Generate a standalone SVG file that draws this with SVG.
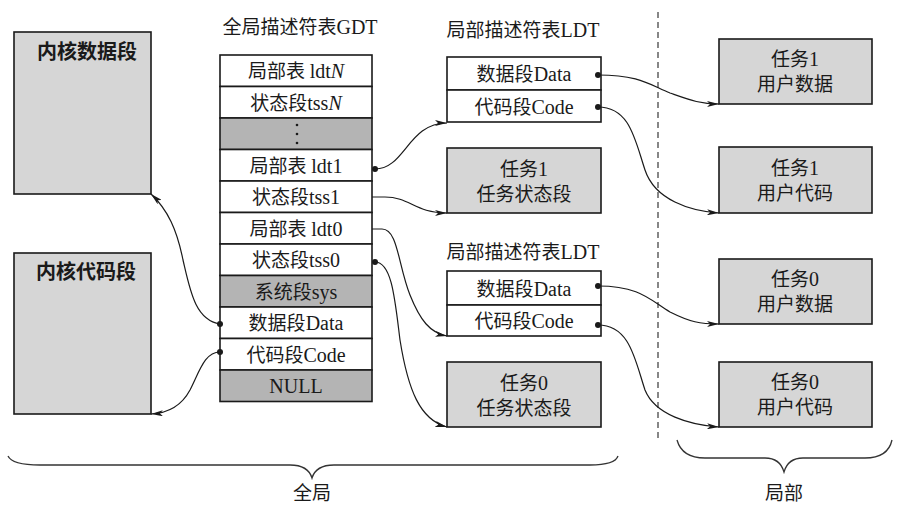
<svg xmlns="http://www.w3.org/2000/svg" width="900" height="510" viewBox="0 0 900 510">
<defs>
<style>
.t{font-family:"Liberation Serif","Noto Sans CJK SC",serif;font-size:19px;fill:#1a1a1a;text-anchor:middle}
.t tspan.l{font-size:20px}
.kb{font-family:"Liberation Serif","Noto Sans CJK SC",serif;font-size:20px;font-weight:bold;fill:#1a1a1a;text-anchor:middle}
.w{fill:#ffffff;stroke:#1a1a1a;stroke-width:1.6}
.g{fill:#d6d6d6;stroke:#1a1a1a;stroke-width:1.6}
.dg{fill:#b4b4b4;stroke:#1a1a1a;stroke-width:1.6}
.c{fill:none;stroke:#1a1a1a;stroke-width:1.2;marker-end:url(#arr)}
.b{fill:none;stroke:#333;stroke-width:1.3}
.dot{fill:#1a1a1a}
</style>
<marker id="arr" viewBox="0 0 12 6" refX="12" refY="3" markerWidth="12" markerHeight="6" markerUnits="userSpaceOnUse" orient="auto">
<path d="M0,0 L12,3 L0,6 L3,3 Z" fill="#1a1a1a"/>
</marker>
</defs>

<g id="kernel-data">
<rect class="g" x="14" y="32" width="137" height="162"/>
<text class="kb" x="87" y="59">内核数据段</text>
</g>
<g id="kernel-code">
<rect class="g" x="14" y="253" width="137" height="161"/>
<text class="kb" x="86" y="279">内核代码段</text>
</g>

<g id="gdt">
<text class="t" x="300" y="34">全局描述符表<tspan class="l">GDT</tspan></text>
<rect class="w" x="220" y="55" width="152" height="31.5"/>
<text class="t" x="296" y="78">局部表 <tspan class="l">ldt</tspan><tspan class="l" font-style="italic">N</tspan></text>
<rect class="w" x="220" y="86.5" width="152" height="31.5"/>
<text class="t" x="296" y="109.5">状态段<tspan class="l">tss</tspan><tspan class="l" font-style="italic">N</tspan></text>
<rect class="dg" x="220" y="118" width="152" height="31.5"/>
<circle class="dot" cx="297" cy="125" r="1.3"/>
<circle class="dot" cx="297" cy="134" r="1.3"/>
<circle class="dot" cx="297" cy="143" r="1.3"/>
<rect class="w" x="220" y="149.5" width="152" height="31.5"/>
<text class="t" x="296" y="172.5">局部表 <tspan class="l">ldt1</tspan></text>
<rect class="w" x="220" y="181" width="152" height="31.5"/>
<text class="t" x="296" y="204">状态段<tspan class="l">tss1</tspan></text>
<rect class="w" x="220" y="212.5" width="152" height="31.5"/>
<text class="t" x="296" y="235.5">局部表 <tspan class="l">ldt0</tspan></text>
<rect class="w" x="220" y="244" width="152" height="31.5"/>
<text class="t" x="296" y="267">状态段<tspan class="l">tss0</tspan></text>
<rect class="dg" x="220" y="275.5" width="152" height="31.5"/>
<text class="t" x="296" y="298.5">系统段<tspan class="l">sys</tspan></text>
<rect class="w" x="220" y="307" width="152" height="31.5"/>
<text class="t" x="296" y="330">数据段<tspan class="l">Data</tspan></text>
<rect class="w" x="220" y="338.5" width="152" height="31.5"/>
<text class="t" x="296" y="361.5">代码段<tspan class="l">Code</tspan></text>
<rect class="dg" x="220" y="370" width="152" height="31.5"/>
<text class="t" x="296" y="393"><tspan class="l">NULL</tspan></text>
</g>

<g id="ldt1">
<text class="t" x="523" y="37">局部描述符表<tspan class="l">LDT</tspan></text>
<rect class="w" x="447" y="57" width="154" height="33"/>
<text class="t" x="524" y="81">数据段<tspan class="l">Data</tspan></text>
<rect class="w" x="447" y="90" width="154" height="32"/>
<text class="t" x="524" y="113.5">代码段<tspan class="l">Code</tspan></text>
</g>
<g id="tss1">
<rect class="g" x="447" y="148" width="154" height="65"/>
<text class="t" x="524" y="176">任务<tspan class="l">1</tspan></text>
<text class="t" x="524" y="201">任务状态段</text>
</g>
<g id="ldt0">
<text class="t" x="523" y="259">局部描述符表<tspan class="l">LDT</tspan></text>
<rect class="w" x="447" y="271" width="154" height="34"/>
<text class="t" x="524" y="295.5">数据段<tspan class="l">Data</tspan></text>
<rect class="w" x="447" y="305" width="154" height="31"/>
<text class="t" x="524" y="328">代码段<tspan class="l">Code</tspan></text>
</g>
<g id="tss0">
<rect class="g" x="447" y="362" width="154" height="65"/>
<text class="t" x="524" y="390">任务<tspan class="l">0</tspan></text>
<text class="t" x="524" y="415">任务状态段</text>
</g>

<g id="task1-data">
<rect class="g" x="719" y="39" width="153" height="65"/>
<text class="t" x="795" y="66">任务<tspan class="l">1</tspan></text>
<text class="t" x="795" y="91">用户数据</text>
</g>
<g id="task1-code">
<rect class="g" x="719" y="147" width="153" height="66"/>
<text class="t" x="795" y="175">任务<tspan class="l">1</tspan></text>
<text class="t" x="795" y="200">用户代码</text>
</g>
<g id="task0-data">
<rect class="g" x="719" y="259" width="153" height="65"/>
<text class="t" x="795" y="286">任务<tspan class="l">0</tspan></text>
<text class="t" x="795" y="311">用户数据</text>
</g>
<g id="task0-code">
<rect class="g" x="719" y="362" width="153" height="65"/>
<text class="t" x="795" y="389">任务<tspan class="l">0</tspan></text>
<text class="t" x="795" y="414">用户代码</text>
</g>

<g id="divider">
<line x1="658" y1="12" x2="658" y2="440" stroke="#555" stroke-width="1.4" stroke-dasharray="6,4"/>
</g>

<g id="connectors">
<path class="c" d="M375,169 C 405,169 408,123 447,123"/>
<path class="c" d="M372,197 L385,197 C 410,197 415,213 447,213"/>
<path class="c" d="M372,229 L382,229 C 398,229 398,265 410,295 C 420,320 430,333 447,336"/>
<path class="c" d="M375,262 C 392,262 395,300 400,340 C 408,390 420,420 447,427"/>
<path class="c" d="M220,324 C 195,320 190,290 183,260 C 177,230 168,210 151,194"/>
<path class="c" d="M220,352 C 205,352 200,370 190,390 C 182,405 170,413 151,414"/>
<path class="c" d="M598,75 C 640,75 650,85 670,93 C 690,100 700,104 719,104"/>
<path class="c" d="M598,107 C 630,107 635,140 645,170 C 655,200 690,211 719,213"/>
<path class="c" d="M598,286 C 640,286 650,300 670,312 C 690,322 700,324 719,324"/>
<path class="c" d="M598,325 C 630,325 635,360 645,390 C 655,415 690,425 719,427"/>
<circle class="dot" cx="375" cy="169" r="3"/>
<circle class="dot" cx="375" cy="262" r="3"/>
<circle class="dot" cx="220" cy="324" r="3"/>
<circle class="dot" cx="220" cy="352" r="3"/>
<circle class="dot" cx="598" cy="75" r="3"/>
<circle class="dot" cx="598" cy="107" r="3"/>
<circle class="dot" cx="598" cy="286" r="3"/>
<circle class="dot" cx="598" cy="325" r="3"/>
</g>

<g id="global-brace">
<path class="b" d="M8,456 Q 12,465 40,465 L 290,465 Q 308,465 312,478 Q 316,465 334,465 L 590,465 Q 615,465 618,456"/>
<text class="t" x="312" y="500">全局</text>
</g>
<g id="local-brace">
<path class="b" d="M677,440 Q 682,458 705,458 L 765,458 Q 780,458 784,472 Q 788,458 803,458 L 865,458 Q 888,458 892,440"/>
<text class="t" x="784" y="500">局部</text>
</g>
</svg>
